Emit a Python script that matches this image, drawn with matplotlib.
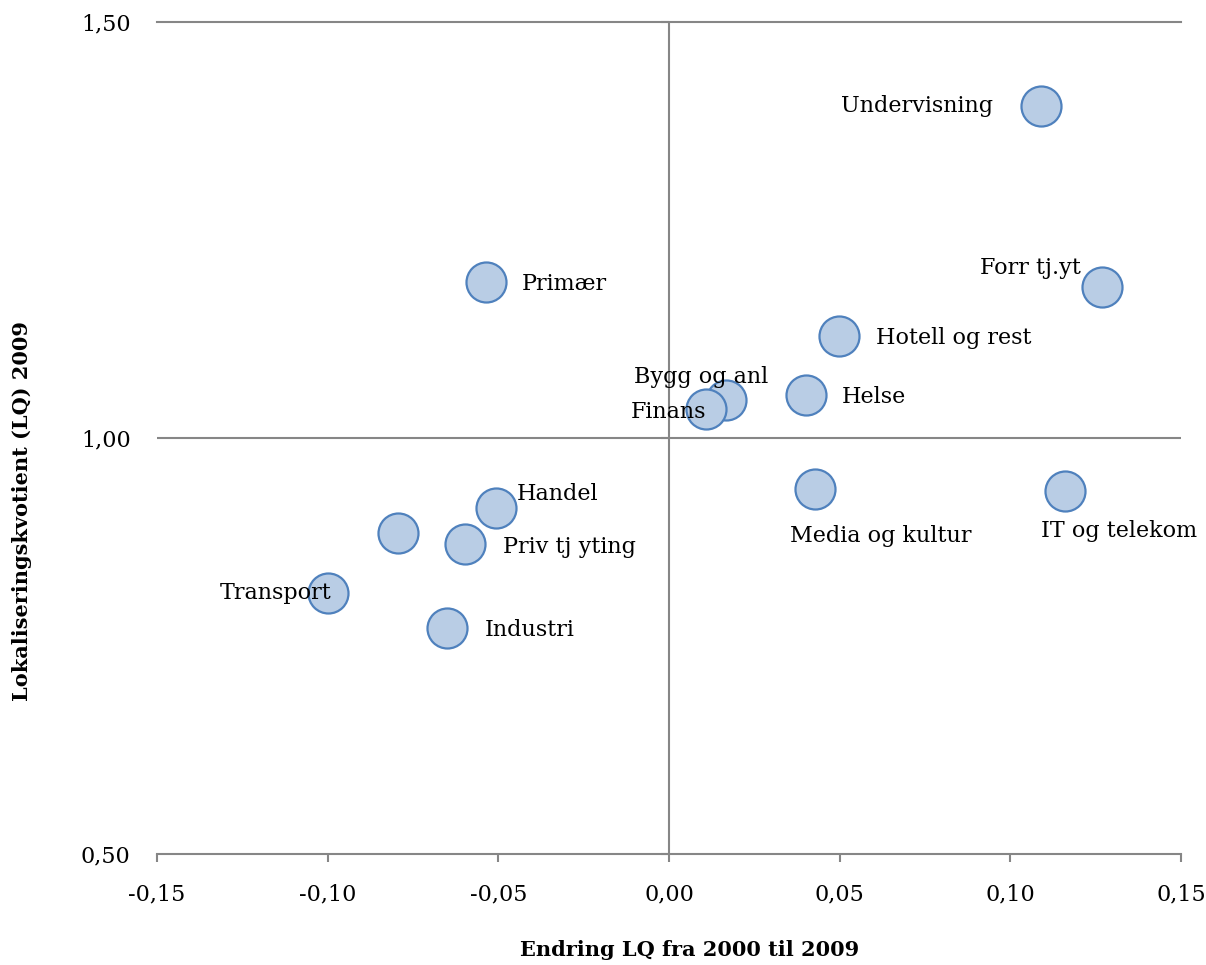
import matplotlib.pyplot as plt
from matplotlib.ticker import FuncFormatter, MultipleLocator

# Data
sectors = ['Undervisning', 'Forr tj.yt', 'Primær', 'Hotell og rest', 'Bygg og anl',
           'Finans', 'Helse', 'Media og kultur', 'IT og telekom', 'Handel', '',
           'Priv tj yting', 'Transport', 'Industri']
change_lq = [0.109, 0.127, -0.0536, 0.0498, 0.0167, 0.0108, 0.040, 0.0428, 0.116,
             -0.0507, -0.0794, -0.0598, -0.0999, -0.065]
lq_2009 = [1.399, 1.181, 1.1875, 1.123, 1.046, 1.035, 1.052, 0.939, 0.936,
           0.916, 0.886, 0.873, 0.814, 0.772]

# label offsets in pixels (dx, dy, ha)
offsets = [(-48, 0, 'right'), (-22, 19, 'right'), (36, -2, 'left'), (37, -2, 'left'),
           (-92, 23, 'left'), (0, -3, 'right'), (36, -2, 'left'), (-25, -47, 'left'),
           (-24, -40, 'left'), (21, 14, 'left'), (0, 0, 'left'), (38, -3, 'left'),
           (3, 0, 'right'), (38, -2, 'left')]

plt.rcParams['font.family'] = ['DejaVu Serif']
grey = '#868686'

fig = plt.figure(figsize=(12.06, 9.65), dpi=100)
ax = fig.add_axes([157 / 1206, (965 - 854) / 965, 1024 / 1206, 832 / 965])

ax.set_xlim(-0.15, 0.15)
ax.set_ylim(0.5, 1.5)

ax.axhline(1.0, color=grey, lw=1.5, zorder=1)
ax.axhline(1.5, color=grey, lw=1.5, zorder=1, clip_on=False)
ax.axvline(0.0, color=grey, lw=1.5, zorder=1)

ax.scatter(change_lq, lq_2009, s=830, facecolor='#B9CDE5', edgecolor='#4F81BD',
           linewidth=1.6, zorder=3)

for name, x, y, (dx, dy, ha) in zip(sectors, change_lq, lq_2009, offsets):
    if name:
        ax.annotate(name, (x, y), xytext=(dx, dy), textcoords='offset pixels',
                    ha=ha, va='center', fontsize=16, zorder=4)

fmt = FuncFormatter(lambda v, p: f'{v:.2f}'.replace('.', ','))
ax.xaxis.set_major_locator(MultipleLocator(0.05))
ax.yaxis.set_major_locator(MultipleLocator(0.5))
ax.xaxis.set_major_formatter(fmt)
ax.yaxis.set_major_formatter(fmt)

for side in ['top', 'right', 'left']:
    ax.spines[side].set_visible(False)
ax.spines['bottom'].set_color(grey)
ax.spines['bottom'].set_linewidth(1.5)
ax.tick_params(axis='x', direction='out', length=6, width=1.5, color=grey,
               labelsize=16, pad=15)
ax.tick_params(axis='y', length=0, labelsize=16, pad=19)

# vertical axis crossing at x = 0 with its own small ticks
sec = ax.secondary_yaxis(0.5)
sec.spines['left'].set_visible(False)
sec.spines['right'].set_visible(False)
sec.yaxis.set_major_locator(MultipleLocator(0.5))
sec.yaxis.set_ticks_position('left')
sec.tick_params(axis='y', direction='out', length=6, width=1.5, color=grey,
                labelleft=False, labelright=False)

fig.text(690 / 1206, 1 - 950 / 965, 'Endring LQ fra 2000 til 2009', ha='center',
         va='center', fontsize=15, fontweight='bold')
fig.text(22 / 1206, 1 - 511 / 965, 'Lokaliseringskvotient (LQ) 2009', ha='center',
         va='center', rotation=90, fontsize=15, fontweight='bold')

fig.savefig('out.png', dpi=100)
